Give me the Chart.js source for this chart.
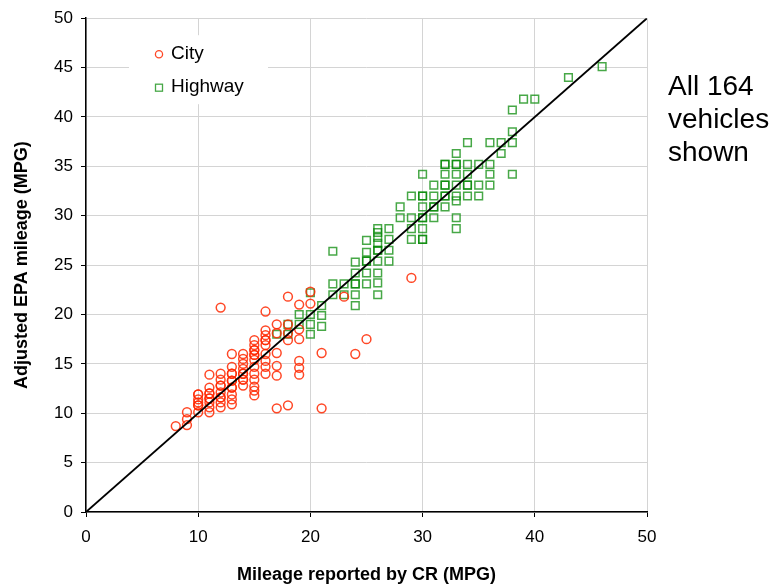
<!DOCTYPE html>
<html>
<head>
<meta charset="utf-8">
<script src="https://cdn.jsdelivr.net/npm/chart.js@4.4.0/dist/chart.umd.min.js"></script>
<style>
  html, body { margin: 0; padding: 0; background: #fff; }
  #wrap { position: relative; width: 779px; height: 586px; }
  #note {
    position: absolute; left: 668px; top: 69px;
    font: 28px "Liberation Sans", Arial, sans-serif;
    line-height: 33px; color: #000;
  }
</style>
</head>
<body>
<div id="wrap">
  <canvas id="mpg" width="779" height="586"></canvas>
  <div id="note">All 164<br>vehicles<br>shown</div>
</div>
<script>
/* ---------- DATA: [CR mpg, adjusted EPA mpg] ---------- */
const cityPoints = [
  [8, 8.7],
  [9, 10.1], [9, 9.4], [9, 8.8],
  [10, 11.9], [10, 11.4], [10, 11.1], [10, 10.8], [10, 10.1], [10, 11.9], [10, 10.8],
  [11, 13.9], [11, 12.6], [11, 12.0], [11, 11.5], [11, 11.1], [11, 10.6], [11, 10.1], [11, 11.5], [11, 12.0],
  [12, 20.7], [12, 14.0], [12, 13.4], [12, 12.8], [12, 12.1], [12, 11.6], [12, 11.1], [12, 10.6], [12, 12.8], [12, 11.6],
  [13, 16.0], [13, 14.7], [13, 14.0], [13, 13.3], [13, 12.6], [13, 11.9], [13, 11.4], [13, 10.9], [13, 13.3], [13, 12.6], [13, 14.0],
  [14, 16.0], [14, 15.5], [14, 15.0], [14, 14.5], [14, 14.0], [14, 13.4], [14, 12.8], [14, 14.0], [14, 13.4],
  [15, 17.4], [15, 16.9], [15, 16.4], [15, 15.9], [15, 15.4], [15, 14.7], [15, 14.0], [15, 13.4], [15, 12.7], [15, 12.3], [15, 11.8], [15, 15.9], [15, 16.4],
  [16, 20.3], [16, 18.4], [16, 17.9], [16, 17.4], [16, 16.9], [16, 16.0], [16, 15.3], [16, 14.7], [16, 14.0], [16, 17.4],
  [17, 19.0], [17, 18.1], [17, 16.1], [17, 14.8], [17, 13.8], [17, 10.5],
  [18, 21.8], [18, 19.0], [18, 18.1], [18, 17.4], [18, 10.8],
  [19, 21.0], [19, 18.5], [19, 17.5], [19, 15.3], [19, 14.6], [19, 13.9],
  [20, 22.3], [20, 21.1],
  [21, 16.1], [21, 10.5],
  [23, 21.8],
  [24, 16.0],
  [25, 17.5],
  [29, 23.7]
];

const highwayPoints = [
  [46, 45.1], [43, 44.0], [39, 41.8], [40, 41.8], [38, 40.7], [38, 38.5],
  [34, 37.4], [36, 37.4], [37, 37.4], [38, 37.4],
  [33, 36.3], [37, 36.3],
  [32, 35.2], [33, 35.2], [34, 35.2], [35, 35.2], [36, 35.2], [32, 35.2], [33, 35.2],
  [30, 34.2], [32, 34.2], [33, 34.2], [34, 34.2], [36, 34.2], [38, 34.2],
  [31, 33.1], [32, 33.1], [33, 33.1], [34, 33.1], [35, 33.1], [36, 33.1], [32, 33.1], [34, 33.1],
  [29, 32.0], [30, 32.0], [31, 32.0], [32, 32.0], [33, 32.0], [34, 32.0], [35, 32.0], [30, 32.0], [32, 32.0],
  [33, 31.5],
  [28, 30.9], [30, 30.9], [31, 30.9], [32, 30.9], [31, 30.9],
  [28, 29.8], [29, 29.8], [30, 29.8], [31, 29.8], [33, 29.8], [30, 29.8],
  [27, 28.7], [29, 28.7], [30, 28.7], [33, 28.7],
  [27, 27.6], [29, 27.6], [30, 27.6], [30, 27.6],
  [27, 26.5], [27, 25.4],
  [26, 28.7], [26, 28.3], [26, 27.8], [26, 27.2], [26, 26.5], [26, 25.4], [26, 24.2], [26, 23.2], [26, 22.0], [26, 26.5],
  [25, 27.5], [25, 26.3], [25, 25.4], [25, 24.2], [25, 23.1], [25, 25.4],
  [24, 25.3], [24, 24.2], [24, 23.1], [24, 22.0], [24, 20.9], [24, 23.1],
  [23, 23.1], [23, 22.0],
  [22, 26.4], [22, 23.1], [22, 22.0],
  [21, 20.9], [21, 19.9], [21, 18.8],
  [20, 22.2], [20, 20.0], [20, 19.0], [20, 18.0],
  [19, 20.0], [19, 19.0],
  [18, 19.0], [18, 18.0],
  [17, 18.0]
];

const parityLine = [[0, 0], [50, 50]];
const xTicks = [0, 10, 20, 30, 40, 50];
const yTicks = [0, 5, 10, 15, 20, 25, 30, 35, 40, 45, 50];

const CITY_RED = "rgba(255, 40, 0, 0.85)";
const HWY_GREEN = "rgba(0, 135, 0, 0.72)";
const FONT = "'Liberation Sans', Arial, sans-serif";

const toXY = pts => pts.map(([x, y]) => ({ x, y }));

/* ---------- LEGEND INSIDE PLOT ---------- */
const insetLegend = {
  id: "insetLegend",
  afterDraw(chart) {
    const ctx = chart.ctx;
    const a = chart.chartArea;
    const bx = a.left + 43, by = a.top + 17;

    ctx.save();
    ctx.fillStyle = "#fff";
    ctx.fillRect(bx, by, 139, 69);

    // city marker
    ctx.strokeStyle = CITY_RED;
    ctx.lineWidth = 1.3;
    ctx.beginPath();
    ctx.arc(bx + 30, by + 19, 3.6, 0, Math.PI * 2);
    ctx.stroke();

    // highway marker
    ctx.strokeStyle = HWY_GREEN;
    ctx.strokeRect(bx + 26.5, by + 49, 7, 7);

    ctx.fillStyle = "#000";
    ctx.font = "19px " + FONT;
    ctx.textBaseline = "middle";
    ctx.fillText("City", bx + 42, by + 19);
    ctx.fillText("Highway", bx + 42, by + 52);
    ctx.restore();
  }
};

/* ---------- CHART ---------- */
const tickFont = { family: FONT, size: 17 };
const titleFont = { family: FONT, size: 18, weight: "bold" };

new Chart(document.getElementById("mpg"), {
  type: "scatter",
  data: {
    datasets: [
      {
        type: "line",
        label: "CR = EPA",
        data: toXY(parityLine),
        borderColor: "#000",
        borderWidth: 1.8,
        pointRadius: 0,
        order: 0
      },
      {
        label: "City",
        data: toXY(cityPoints),
        pointStyle: "circle",
        pointRadius: 4.4,
        borderWidth: 1.5,
        borderColor: CITY_RED,
        backgroundColor: "transparent",
        order: 1
      },
      {
        label: "Highway",
        data: toXY(highwayPoints),
        pointStyle: "rect",
        pointRadius: 5.4,
        borderWidth: 1.5,
        borderColor: HWY_GREEN,
        backgroundColor: "transparent",
        order: 2
      }
    ]
  },
  options: {
    responsive: false,
    animation: false,
    devicePixelRatio: 1,
    layout: { padding: { top: 16, right: 132, left: 0, bottom: 0 } },
    plugins: {
      legend: { display: false },
      tooltip: { enabled: false }
    },
    scales: {
      x: {
        type: "linear",
        min: 0,
        max: 50,
        afterBuildTicks: s => { s.ticks = xTicks.map(v => ({ value: v })); },
        afterFit: s => { s.height = 74; },
        grid: { color: "#d4d4d4", lineWidth: 1, tickLength: 5, tickColor: "#000" },
        border: { color: "#000", width: 1.5 },
        ticks: { color: "#000", font: tickFont, padding: 10, maxRotation: 0 },
        title: {
          display: true,
          text: "Mileage reported by CR (MPG)",
          color: "#000",
          font: titleFont,
          padding: { top: 6, bottom: 0 }
        }
      },
      y: {
        type: "linear",
        min: 0,
        max: 50,
        afterBuildTicks: s => { s.ticks = yTicks.map(v => ({ value: v })); },
        afterFit: s => { s.width = 86; },
        grid: { color: "#d4d4d4", lineWidth: 1, tickLength: 5, tickColor: "#000" },
        border: { color: "#000", width: 1.5 },
        ticks: { color: "#000", font: tickFont, padding: 8 },
        title: {
          display: true,
          text: "Adjusted EPA mileage (MPG)",
          color: "#000",
          font: titleFont,
          padding: { top: 11, bottom: 0 }
        }
      }
    }
  },
  plugins: [insetLegend]
});
</script>
</body>
</html>
